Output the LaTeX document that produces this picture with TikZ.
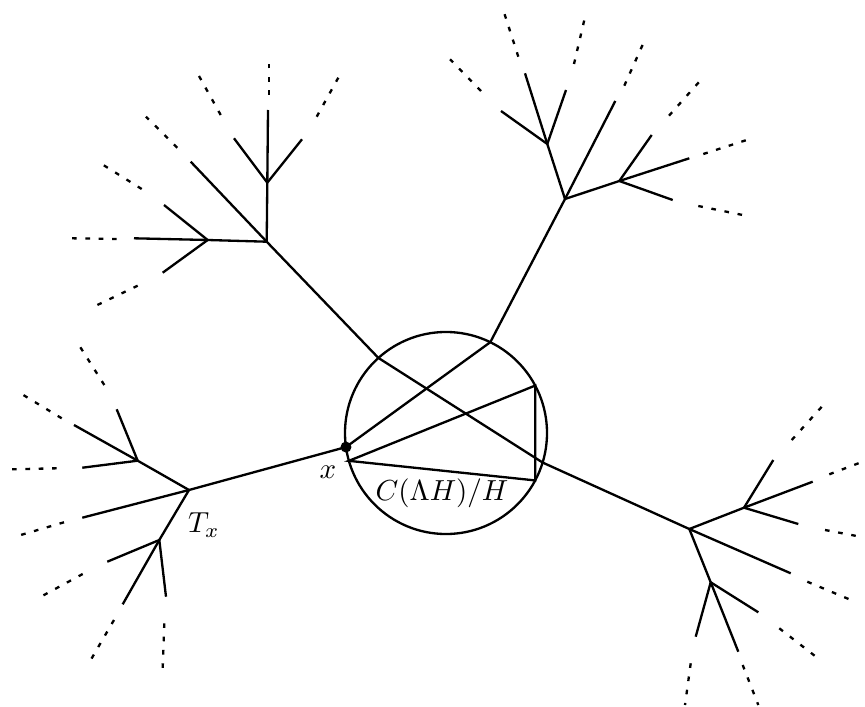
\documentclass[tikz,border=0pt]{standalone}
\usepackage{tikz}
\usetikzlibrary{calc}

\begin{document}
\begin{tikzpicture}[
    x=0.345pt, y=-0.345pt,
    edge/.style={line width=0.8pt},
    ray/.style={line width=0.8pt, dash pattern=on 1.6pt off 3.0pt},
    disk/.style={circle, draw, line width=0.8pt, minimum size=69.7pt, inner sep=0pt, outer sep=0pt}
]
\useasboundingbox (0,0) rectangle (865,706);

% quotient disk and its boundary points
\node[disk] (disk) at (446,433) {};
\coordinate (x) at (disk.188.5);
\coordinate (p1) at (disk.132.2);
\coordinate (p2) at (disk.64.3);
\coordinate (p3) at (disk.-17.6);
\coordinate (qa) at (disk.196.8);
\coordinate (qb) at (disk.28.6);
\coordinate (qc) at (disk.-28.6);

% chords inside the disk
\draw[edge] (x) -- (p2);
\draw[edge] (p1) -- (p3);
\draw[edge] (qa) -- (qb) -- (qc) -- cycle;
\fill (x) circle [radius=5.5];

% tree T_x
\coordinate (tx) at (189,490);
\coordinate (tx1) at (137.7,460.7);
\coordinate (tx2) at (159.3,540);
\draw[edge] (x) -- (tx);
\draw[edge] (tx) -- (tx1);
\draw[edge] (tx) -- (tx2);
\foreach \n/\j/\a/\b/\c in {
    txa/tx1/{116.7,409.3}/{104.3,385}/{80,346.7},
    txb/tx1/{74,425}/{61.7,418.3}/{23.3,395},
    txc/tx1/{82.3,467.7}/{56.7,468.3}/{11.7,469.3},
    txd/tx/{82.3,517.7}/{64,522.3}/{20.7,535},
    txe/tx2/{107.3,561.7}/{82.7,574}/{42.7,595.7},
    txf/tx2/{122.7,604.3}/{114,620}/{90.7,660},
    txg/tx2/{166,596.7}/{164.3,623.3}/{162.7,668.3}} {
  \coordinate (\n) at (\a);
  \coordinate (\n s) at (\b);
  \coordinate (\n t) at (\c);
  \draw[edge] (\j) -- (\n);
  \draw[ray] (\n s) -- (\n t);
}

% upper left tree
\coordinate (tl) at (266.7,241.7);
\coordinate (tl1) at (267.3,182.7);
\coordinate (tl2) at (207.7,240);
\draw[edge] (p1) -- (tl);
\draw[edge] (tl) -- (tl1);
\draw[edge] (tl) -- (tl2);
\foreach \n/\j/\a/\b/\c in {
    tla/tl1/{268,110}/{269.3,95}/{269.3,64},
    tlb/tl1/{234,138.3}/{220.7,115}/{199,76},
    tlc/tl1/{302,139.3}/{316.7,116.7}/{338.3,77.7},
    tld/tl/{190.7,161.7}/{177.3,147.7}/{146,116.7},
    tle/tl2/{164,205}/{141.7,189}/{103.3,165},
    tlf/tl2/{134,238.3}/{116.7,239}/{71.7,238.3},
    tlg/tl2/{162.7,272.7}/{137.7,285.7}/{97.3,305}} {
  \coordinate (\n) at (\a);
  \coordinate (\n s) at (\b);
  \coordinate (\n t) at (\c);
  \draw[edge] (\j) -- (\n);
  \draw[ray] (\n s) -- (\n t);
}

% upper right tree
\coordinate (tr) at (565,199);
\coordinate (tr1) at (547.3,144);
\coordinate (tr2) at (619.3,181);
\draw[edge] (p2) -- (tr);
\draw[edge] (tr) -- (tr1);
\draw[edge] (tr) -- (tr2);
\foreach \n/\j/\a/\b/\c in {
    tra/tr1/{501,111}/{481,91}/{450,59.3},
    trb/tr1/{525,73.3}/{518.3,56.7}/{504.3,13.3},
    trc/tr1/{566,90}/{574,64}/{584.3,20},
    trd/tr/{615.3,101}/{624.3,85.7}/{643.3,43.3},
    tre/tr2/{651.7,135}/{669,115.7}/{699.3,81.7},
    trf/tr2/{689.3,158.3}/{703.3,154}/{746.7,140},
    trg/tr2/{672.7,200}/{698.3,206}/{742.7,215}} {
  \coordinate (\n) at (\a);
  \coordinate (\n s) at (\b);
  \coordinate (\n t) at (\c);
  \draw[edge] (\j) -- (\n);
  \draw[ray] (\n s) -- (\n t);
}

% lower right tree
\coordinate (br) at (689.3,529);
\coordinate (br1) at (744,507.7);
\coordinate (br2) at (710.7,582.3);
\draw[edge] (p3) -- (br);
\draw[edge] (br) -- (br1);
\draw[edge] (br) -- (br2);
\foreach \n/\j/\a/\b/\c in {
    bra/br1/{773.3,460}/{791.7,440}/{822.7,405.7},
    brb/br1/{812.7,481.7}/{829.3,474.3}/{860,462.7},
    brc/br1/{798.3,524}/{825,530}/{856.7,536},
    brd/br/{790.7,573.3}/{807.3,581.7}/{849.3,599.3},
    bre/br2/{758.3,612.3}/{779.3,628.3}/{815,656},
    brf/br2/{695.7,636.7}/{690.7,663.3}/{685,705},
    brg/br2/{738.3,651.7}/{742.7,665}/{758.3,705}} {
  \coordinate (\n) at (\a);
  \coordinate (\n s) at (\b);
  \coordinate (\n t) at (\c);
  \draw[edge] (\j) -- (\n);
  \draw[ray] (\n s) -- (\n t);
}

% labels
\node (xlabel) at (328,472) {$x$};
\node (txlabel) at (204,525) {$T_x$};
\node (quot) at (442,493) {$C(\Lambda H)/H$};

\end{tikzpicture}
\end{document}
